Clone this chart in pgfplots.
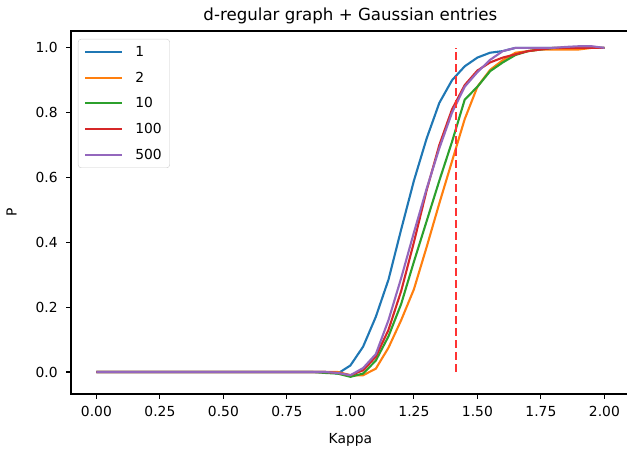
\documentclass[border=0pt]{standalone}
\usepackage{pgfplots}
\pgfplotsset{compat=1.18}
\usepackage{pgfplotstable}
\usepackage{fontspec}
\setmainfont{DejaVu Sans}

\definecolor{tabblue}{HTML}{1F77B4}
\definecolor{taborange}{HTML}{FF7F0E}
\definecolor{tabgreen}{HTML}{2CA02C}
\definecolor{tabred}{HTML}{D62728}
\definecolor{tabpurple}{HTML}{9467BD}
\definecolor{vline}{HTML}{FF3333}

% P against kappa, one column for each d
\pgfplotstableread{
x     d1     d2     d10    d100   d500
0.00  0      0      0      0      0
0.05  0      0      0      0      0
0.10  0      0      0      0      0
0.15  0      0      0      0      0
0.20  0      0      0      0      0
0.25  0      0      0      0      0
0.30  0      0      0      0      0
0.35  0      0      0      0      0
0.40  0      0      0      0      0
0.45  0      0      0      0      0
0.50  0      0      0      0      0
0.55  0      0      0      0      0
0.60  0      0      0      0      0
0.65  0      0      0      0      0
0.70  0      0      0      0      0
0.75  0      0      0      0      0
0.80  0      0      0      0      0
0.85  0      0      0      0      0
0.90  0      0     -0.003  0      0
0.95 -0.005  0     -0.005 -0.003 -0.003
1.00  0.02  -0.01  -0.015 -0.01  -0.01
1.05  0.078 -0.01  -0.005  0.005  0.012
1.10  0.17   0.01   0.035  0.047  0.055
1.15  0.285  0.075  0.11   0.13   0.16
1.20  0.44   0.16   0.21   0.25   0.29
1.25  0.59   0.255  0.34   0.40   0.43
1.30  0.72   0.385  0.465  0.56   0.565
1.35  0.83   0.52   0.59   0.70   0.69
1.40  0.90   0.65   0.71   0.81   0.80
1.45  0.943  0.78   0.84   0.885  0.88
1.50  0.97   0.88   0.88   0.93   0.925
1.55  0.985  0.932  0.928  0.955  0.963
1.60  0.99   0.962  0.955  0.97   0.99
1.65  1.0    0.985  0.978  0.98   1.0
1.70  1.0    0.99   0.99   0.99   1.0
1.75  1.0    0.995  0.995  0.995  1.0
1.80  1.0    0.995  1.0    1.0    1.0
1.85  1.0    0.995  1.0    1.0    1.003
1.90  1.0    0.995  1.0    1.0    1.005
1.95  1.0    1.0    1.0    1.0    1.005
2.00  1.0    1.0    1.0    1.0    1.0
}\pdata

\begin{document}
\begin{tikzpicture}
\begin{axis}[
  scale only axis,
  width=558.8bp, height=363bp,
  xmin=-0.1, xmax=2.1, ymin=-0.068, ymax=1.052,
  axis line style={line width=1.1bp},
  tick style={line width=1.1bp, black},
  tick align=outside, major tick length=4.9bp,
  xtick pos=bottom, ytick pos=left,
  xtick={0,0.25,...,2.01}, ytick={0,0.2,...,1.01},
  xticklabel style={yshift=-4bp, /pgf/number format/.cd, fixed, fixed zerofill, precision=2},
  yticklabel style={xshift=-5bp, /pgf/number format/.cd, fixed, fixed zerofill, precision=1},
  /pgf/number format/assume math mode=true,
  ticklabel style={font=\fontsize{13.9}{16}\selectfont},
  xlabel={Kappa}, ylabel={P},
  xlabel shift=10bp, ylabel shift=12bp,
  label style={font=\fontsize{13.9}{16}\selectfont},
  title={d-regular graph + Gaussian entries},
  title style={font=\fontsize{16.7}{19}\selectfont, yshift=-2bp},
  legend cell align=left,
  legend style={at={(0.0125,0.978)}, anchor=north west,
    draw=black!20, rounded corners=3bp, fill=white, inner xsep=6bp, inner ysep=5bp,
    font=\fontsize{13.9}{16}\selectfont, row sep=10bp,
    /tikz/every odd column/.append style={column sep=10bp}},
  legend image code/.code={\draw[#1] (0bp,0bp) -- (37bp,0bp);},
]
\addplot[tabblue, line width=2.1bp] table[x=x, y=d1] {\pdata};
\addlegendentry{1}
\addplot[taborange, line width=2.1bp] table[x=x, y=d2] {\pdata};
\addlegendentry{2}
\addplot[tabgreen, line width=2.1bp] table[x=x, y=d10] {\pdata};
\addlegendentry{10}
\addplot[tabred, line width=2.1bp] table[x=x, y=d100] {\pdata};
\addlegendentry{100}
\addplot[tabpurple, line width=2.1bp] table[x=x, y=d500] {\pdata};
\addlegendentry{500}
\addplot[vline, line width=2.1bp, dash pattern=on 8bp off 4bp, forget plot]
  coordinates {(1.41421,0) (1.41421,1)};
\end{axis}
\pgfresetboundingbox
\path[use as bounding box] ([shift={(-71bp,-56bp)}]current axis.south west) rectangle ++(627bp,450bp);
\end{tikzpicture}
\end{document}
